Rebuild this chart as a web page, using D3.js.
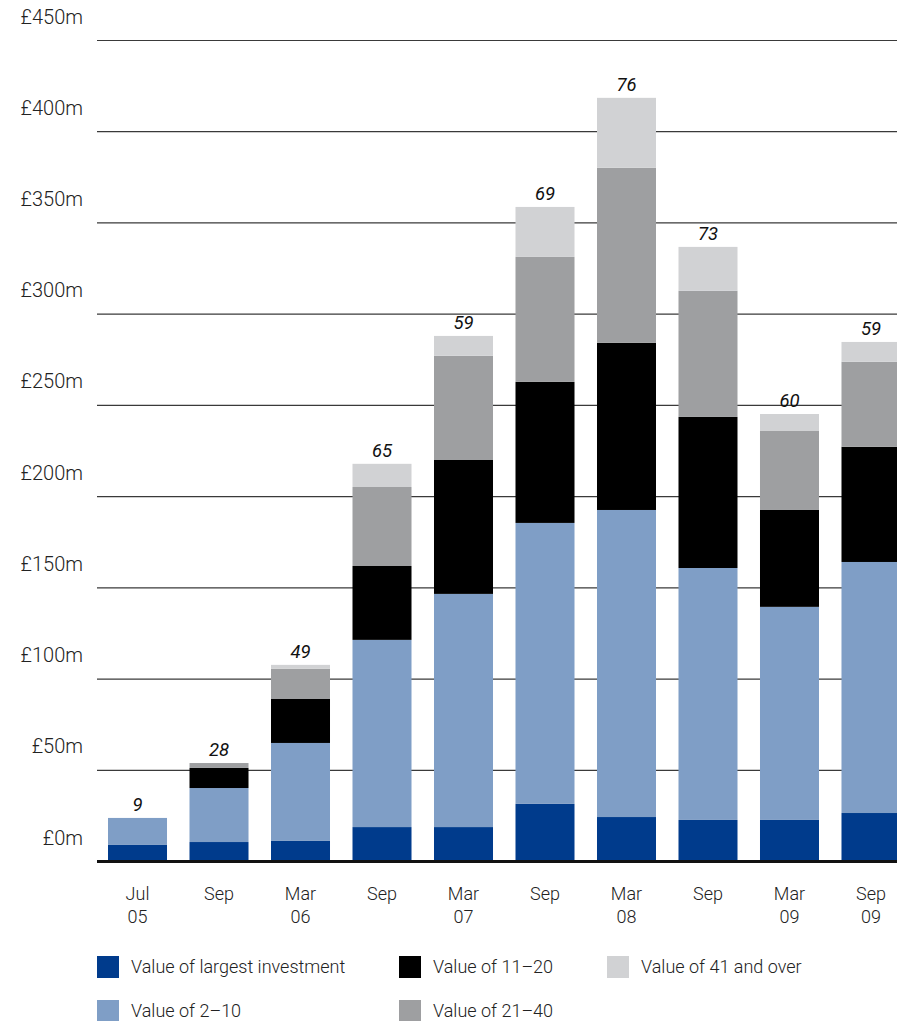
<!DOCTYPE html>
<html>
<head>
<meta charset="utf-8">
<script src="https://cdn.jsdelivr.net/npm/d3@7"></script>
<style>
  html, body { margin: 0; padding: 0; background: #fff; }
  svg { display: block; font-family: Roboto, "Liberation Sans", sans-serif; font-weight: 300; }
</style>
</head>
<body>
<svg id="chart" width="897" height="1021"></svg>
<script>
// ---- data ----
const categories = ["Jul 05", "Sep 05", "Mar 06", "Sep 06", "Mar 07", "Sep 07", "Mar 08", "Sep 08", "Mar 09", "Sep 09"];
const tickTop    = ["Jul", "Sep", "Mar", "Sep", "Mar", "Sep", "Mar", "Sep", "Mar", "Sep"];
const tickBottom = ["05", "", "06", "", "07", "", "08", "", "09", "09"];
const seriesNames = ["Value of largest investment", "Value of 2\u201310", "Value of 11\u201320", "Value of 21\u201340", "Value of 41 and over"];
const largest   = [8.8, 10.4, 11.0, 18.6, 18.6, 31.3, 24.1, 22.5, 22.5, 26.3];
const v2to10    = [14.8, 29.6, 53.7, 102.6, 127.8, 154.0, 168.3, 138.1, 116.8, 137.6];
const v11to20   = [0, 11.0, 24.1, 40.5, 73.4, 77.3, 91.6, 82.8, 53.1, 63.1];
const v21to40   = [0, 2.7, 16.5, 43.3, 57.1, 68.5, 96.0, 69.1, 43.3, 46.6];
const v41plus   = [0, 0, 2.2, 12.7, 10.9, 27.4, 38.3, 24.1, 9.3, 10.9];
const counts    = [9, 28, 49, 65, 59, 69, 76, 73, 60, 59];
const yTicks    = [0, 50, 100, 150, 200, 250, 300, 350, 400, 450];

// ---- styling ----
const colors = ["#003b8c", "#7f9ec6", "#000000", "#9e9fa1", "#d1d2d4"];
const keys = ["largest", "v2to10", "v11to20", "v21to40", "v41plus"];

const rows = categories.map((c, i) => ({
  cat: c, largest: largest[i], v2to10: v2to10[i], v11to20: v11to20[i],
  v21to40: v21to40[i], v41plus: v41plus[i], count: counts[i]
}));

const svg = d3.select("#chart");
const plotLeft = 97, plotRight = 897, plotTop = 40, plotBase = 861;

const y = d3.scaleLinear().domain([0, 450]).range([plotBase, plotTop]);
const x = d3.scaleBand().domain(categories)
  .range([97, 911.5]).paddingInner(0.276).paddingOuter(0.135);

// gridlines + y labels
const yAxis = d3.axisLeft(y).tickValues(yTicks).tickSize(-(plotRight - plotLeft))
  .tickFormat(d => "\u00a3" + d + "m");
const gy = svg.append("g").attr("transform", `translate(${plotLeft},0)`).call(yAxis);
gy.select(".domain").remove();
gy.selectAll(".tick line").attr("stroke", "#3a3a3a").attr("stroke-width", 1.2);
gy.selectAll(".tick text")
  .attr("x", -14).attr("dy", "-0.85em")
  .attr("fill", "#222").style("font-size", "20px")
  .style("font-family", "Roboto, 'Liberation Sans', sans-serif").style("font-weight", 300);

// stacked bars
const stack = d3.stack().keys(keys)(rows);
svg.append("g").selectAll("g").data(stack).join("g")
  .attr("fill", (d, i) => colors[i])
  .selectAll("rect").data(d => d).join("rect")
  .attr("x", d => x(d.data.cat))
  .attr("width", x.bandwidth())
  .attr("y", d => y(d[1]))
  .attr("height", d => Math.max(0, y(d[0]) - y(d[1])));

// baseline
svg.append("line").attr("x1", plotLeft).attr("x2", plotRight)
  .attr("y1", y(0) + 0.5).attr("y2", y(0) + 0.5)
  .attr("stroke", "#111").attr("stroke-width", 3);

// count labels
const totals = rows.map(r => keys.reduce((s, k) => s + r[k], 0));
svg.append("g").selectAll("text").data(rows).join("text")
  .attr("x", d => x(d.cat) + x.bandwidth() / 2)
  .attr("y", (d, i) => y(totals[i]) - 7)
  .attr("text-anchor", "middle")
  .style("font-size", "18.5px").style("font-style", "italic").style("font-weight", 400)
  .attr("fill", "#111")
  .text(d => d.count);

// x labels
const xAxis = d3.axisBottom(x).tickSize(0).tickFormat(() => "");
const gx = svg.append("g").attr("transform", `translate(0,${plotBase})`).call(xAxis);
gx.select(".domain").remove();
gx.selectAll(".tick text").each(function(d, i) {
  const t = d3.select(this).text(null).attr("y", 0).attr("dy", null)
    .attr("fill", "#222").style("font-size", "18px")
    .style("font-family", "Roboto, 'Liberation Sans', sans-serif").style("font-weight", 300);
  t.append("tspan").attr("x", 0).attr("y", 39).text(tickTop[i]);
  if (tickBottom[i]) t.append("tspan").attr("x", 0).attr("y", 62).text(tickBottom[i]);
});

// legend
const legendPos = [[97, 956], [97, 1000], [399, 956], [399, 1000], [607, 956]];
const lg = svg.append("g").selectAll("g").data(seriesNames).join("g")
  .attr("transform", (d, i) => `translate(${legendPos[i][0]},${legendPos[i][1]})`);
lg.append("rect").attr("width", 22).attr("height", 22).attr("fill", (d, i) => colors[i]);
lg.append("text").attr("x", 34).attr("y", 17)
  .attr("fill", "#222").style("font-size", "18px")
  .text(d => d);
</script>
</body>
</html>
